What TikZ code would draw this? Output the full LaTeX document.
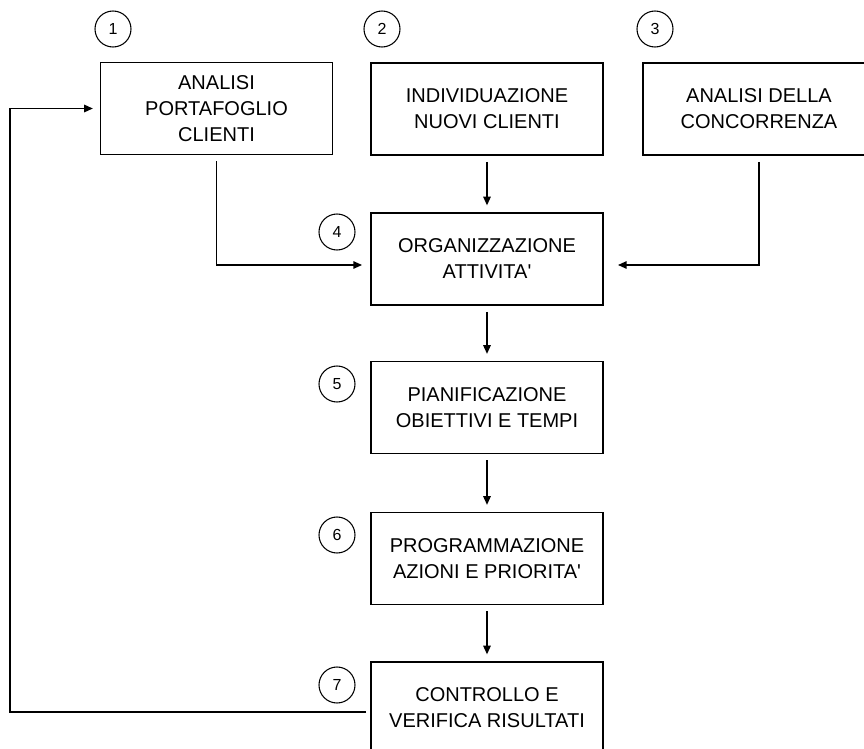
\documentclass[tikz,border=0pt]{standalone}
\usepackage{fontspec}
\setmainfont{Liberation Sans}
\usetikzlibrary{arrows.meta, positioning}

\begin{document}
\begin{tikzpicture}[
    x=0.75pt,           % one pixel
    y=-0.75pt,          % y grows downwards
    >={Triangle[length=6.5pt,width=5.5pt]},
    box/.style={draw, line width=1.4pt, minimum width=174pt, minimum height=69pt,
                inner sep=0pt, align=center, font=\fontsize{15}{19.5}\selectfont},
    num/.style={draw, circle, line width=0.8pt, minimum size=27pt, inner sep=0pt,
                font=\fontsize{12}{12}\selectfont},
    flow/.style={->, line width=1.2pt}
]

    % --- 0. Page size ---
    \useasboundingbox (0,0) rectangle (864,749);
    \clip (0,0) rectangle (864,749);
    \fill[white] (0,0) rectangle (864,749);

    % --- 1. Top row ---
    \node[box] (port) at (216.5,108.5) {ANALISI\\PORTAFOGLIO\\CLIENTI};
    \node[box] (nuovi) at (487,109) {INDIVIDUAZIONE\\NUOVI CLIENTI};
    \node[box] (conc) at (759,109) {ANALISI DELLA\\CONCORRENZA};

    % --- 2. Main column ---
    \node[box] (org) at (487,259) {ORGANIZZAZIONE\\ATTIVITA\textquotesingle};
    \node[box] (pian) at (487,407.5) {PIANIFICAZIONE\\OBIETTIVI E TEMPI};
    \node[box] (prog) at (487,558.5) {PROGRAMMAZIONE\\AZIONI E PRIORITA\textquotesingle};
    \node[box] (ctrl) at (487,708) {CONTROLLO E\\VERIFICA RISULTATI};

    % --- 3. Step numbers ---
    \node[num] (n1) at (113,29) {1};
    \node[num] (n2) at (382,29) {2};
    \node[num] (n3) at (655,29) {3};
    \node[num] (n4) at (337,232) {4};
    \node[num] (n5) at (337,384) {5};
    \node[num] (n6) at (337,535) {6};
    \node[num] (n7) at (337,685) {7};

    % --- 4. Connectors ---
    \draw[flow, shorten <=4.5pt, shorten >=5pt] (nuovi) -- (org);
    \draw[flow, shorten <=4.5pt, shorten >=5pt] (org) -- (pian);
    \draw[flow, shorten <=4.5pt, shorten >=5pt] (pian) -- (prog);
    \draw[flow, shorten <=4.5pt, shorten >=5pt] (prog) -- (ctrl);
    \draw[flow, shorten <=4.5pt, shorten >=6pt] (port.south) |- ([yshift=-4.5pt]org.west);
    \draw[flow, shorten <=4.5pt, shorten >=10.5pt] (conc.south) |- ([yshift=-4.5pt]org.east);

    % feedback loop back to the first step
    \draw[flow, shorten <=3pt, shorten >=5pt] ([yshift=-3pt]ctrl.west) -- ++(-360,0) |- (port.west);

\end{tikzpicture}
\end{document}
